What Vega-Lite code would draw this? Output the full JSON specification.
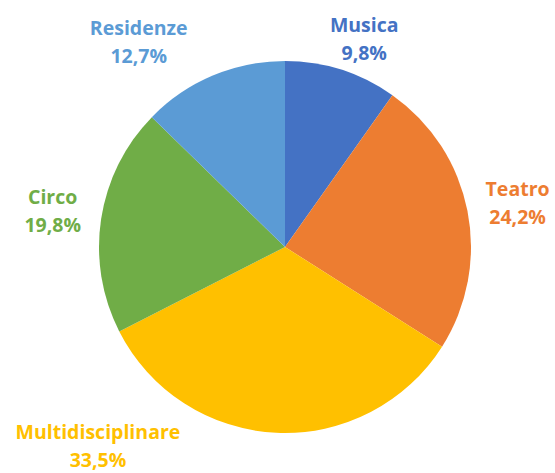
{
  "$schema": "https://vega.github.io/schema/vega-lite/v6.json",
  "width": 540,
  "height": 452,
  "autosize": {"type": "none"},
  "padding": {"left": 15, "top": 21, "right": 0, "bottom": 0},
  "background": "white",
  "config": {
    "view": {"stroke": null},
    "locale": {"number": {"decimal": ",", "thousands": ".", "grouping": [3], "currency": ["", " €"]}}
  },
  "data": {
    "values": [
      {"categoria": "Musica", "quota": 0.098},
      {"categoria": "Teatro", "quota": 0.242},
      {"categoria": "Multidisciplinare", "quota": 0.335},
      {"categoria": "Circo", "quota": 0.198},
      {"categoria": "Residenze", "quota": 0.127}
    ]
  },
  "transform": [{"window": [{"op": "row_number", "as": "ordine"}]}],
  "encoding": {
    "theta": {"field": "quota", "type": "quantitative", "stack": true},
    "order": {"field": "ordine", "type": "quantitative"},
    "color": {
      "field": "categoria",
      "type": "nominal",
      "scale": {
        "domain": ["Musica", "Teatro", "Multidisciplinare", "Circo", "Residenze"],
        "range": ["#4472C4", "#ED7D31", "#FFC000", "#70AD47", "#5B9BD5"]
      },
      "legend": null
    }
  },
  "layer": [
    {"mark": {"type": "arc", "radius": 186}},
    {
      "mark": {
        "type": "text", "radius": 235, "font": "Open Sans", "fontWeight": "bold", "fontSize": 19.5,
        "dx": {"expr": "datum.categoria === 'Musica' ? 8 : datum.categoria === 'Teatro' ? 2 : datum.categoria === 'Multidisciplinare' ? -176 : datum.categoria === 'Residenze' ? -55 : 0"},
        "dy": {"expr": "datum.categoria === 'Musica' ? 3 : datum.categoria === 'Teatro' ? -11.5 : datum.categoria === 'Multidisciplinare' ? -49 : datum.categoria === 'Residenze' ? -1.5 : -14"}
      },
      "encoding": {"text": {"field": "categoria", "type": "nominal"}}
    },
    {
      "mark": {
        "type": "text", "radius": 235, "font": "Open Sans", "fontWeight": "bold", "fontSize": 19.5,
        "dx": {"expr": "datum.categoria === 'Musica' ? 8 : datum.categoria === 'Teatro' ? 2 : datum.categoria === 'Multidisciplinare' ? -176 : datum.categoria === 'Residenze' ? -55 : 0"},
        "dy": {"expr": "datum.categoria === 'Musica' ? 31 : datum.categoria === 'Teatro' ? 16.5 : datum.categoria === 'Multidisciplinare' ? -21 : datum.categoria === 'Residenze' ? 26.5 : 14"}
      },
      "encoding": {"text": {"field": "quota", "type": "quantitative", "format": ".1%"}}
    }
  ]
}
